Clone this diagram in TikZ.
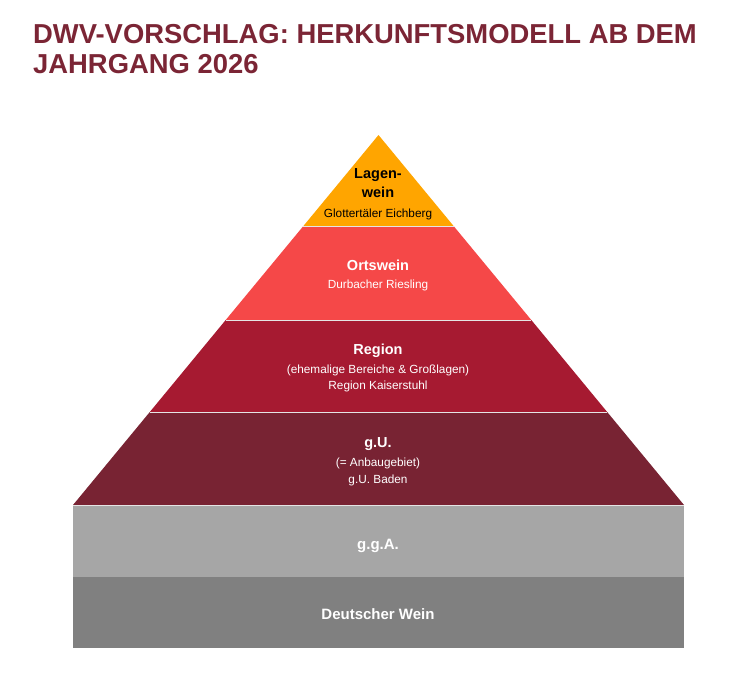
\documentclass[tikz,border=0pt]{standalone}
\usepackage{fontspec}
\setmainfont{Liberation Sans}
\usetikzlibrary{positioning}
\definecolor{dwvtitle}{HTML}{7B2535}
\definecolor{lagencol}{HTML}{FFA500}
\definecolor{ortscol}{HTML}{F54848}
\definecolor{regioncol}{HTML}{A61A31}
\definecolor{gucol}{HTML}{782333}
\definecolor{ggacol}{HTML}{A6A6A6}
\definecolor{weincol}{HTML}{808080}
\newcommand{\tierhead}{\bfseries\fontsize{14.5}{19}\selectfont}
\newcommand{\basehead}{\bfseries\fontsize{15}{19}\selectfont}

\begin{document}
\begin{tikzpicture}[x=1pt,y=-1pt,
  tier/.style={align=center, text=white, inner sep=0pt, font=\fontsize{11.8}{17}\selectfont},
  sep/.style={draw=white!80!gray, line width=1pt}]
\useasboundingbox (0,0) rectangle (729,685);
% title
\node[anchor=base west, inner sep=0pt, text=dwvtitle, font=\bfseries\fontsize{27.4}{29}\selectfont] (title1) at (33,44) {DWV-VORSCHLAG: HERKUNFTSMODELL AB DEM};
\node[anchor=base west, inner sep=0pt, text=dwvtitle, font=\bfseries\fontsize{27.4}{29}\selectfont] (title2) at (33,74) {JAHRGANG 2026};
% pyramid
\fill[lagencol] (378.5,135) -- (453.6,226) -- (303.4,226) -- cycle;
\fill[ortscol] (303.4,226) -- (453.6,226) -- (531.3,320) -- (225.7,320) -- cycle;
\fill[regioncol] (225.7,320) -- (531.3,320) -- (607.2,412) -- (149.8,412) -- cycle;
\fill[gucol] (149.8,412) -- (607.2,412) -- (684,505) -- (73,505) -- cycle;
\fill[ggacol] (73,505) rectangle (684,577);
\fill[weincol] (73,577) rectangle (684,648);
\draw[sep] (303.4,226) -- (453.6,226);
\draw[sep] (225.7,320) -- (531.3,320);
\draw[sep] (149.8,412) -- (607.2,412);
\draw[sep] (73,505) -- (684,505);
% labels
\node[tier, text=black] (lagen) at (378,194) {{\tierhead Lagen-}\\[2pt]{\tierhead wein}\\[3pt]Glottertäler Eichberg};
\node[tier] (orts) at (378,275.5) {{\tierhead Ortswein}\\[1pt]Durbacher Riesling};
\node[tier] (region) at (378,368) {{\tierhead Region}\\[2pt](ehemalige Bereiche \& Großlagen)\\[-1pt]Region Kaiserstuhl};
\node[tier] (gu) at (378,461.5) {{\tierhead g.U.}\\[2pt](= Anbaugebiet)\\[0pt]g.U. Baden};
\node[tier] (gga) at (378,546) {\basehead g.g.A.};
\node[tier] (dwein) at (378,614) {\basehead Deutscher Wein};
\end{tikzpicture}
\end{document}
